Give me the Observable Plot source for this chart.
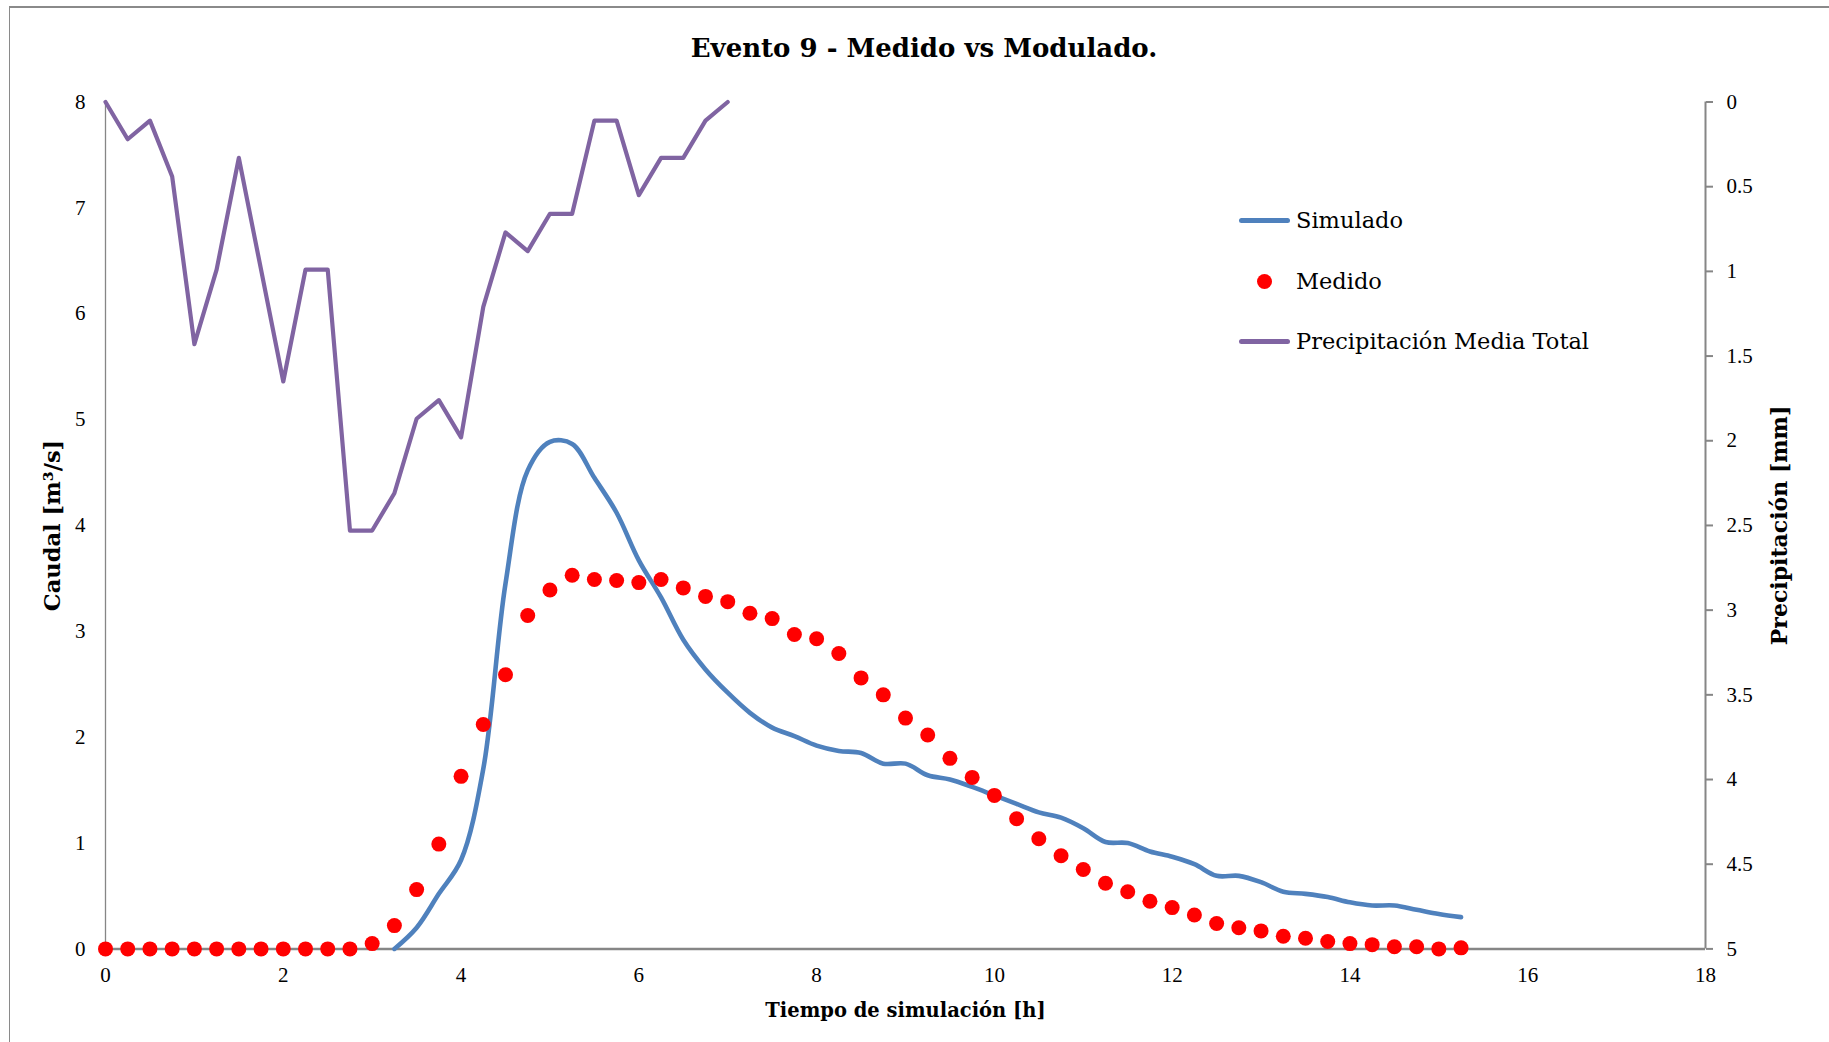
<!DOCTYPE html>
<html>
<head>
<meta charset="utf-8">
<script src="https://cdn.jsdelivr.net/npm/d3@7"></script>
<script src="https://cdn.jsdelivr.net/npm/@observablehq/plot@0.6"></script>
<style>
  html, body { margin: 0; padding: 0; background: #fff; }
  #wrap { position: relative; width: 1829px; height: 1042px; overflow: hidden; background: #fff; }
  #frame { position: absolute; left: 9px; top: 6px; width: 1900px; height: 1100px;
           border-top: 2px solid #8a8a8a; border-left: 1px solid #8a8a8a; box-sizing: border-box; }
  #title { position: absolute; left: 924px; top: 48px; transform: translate(-50%, -50%);
           font-family: "DejaVu Serif"; font-weight: bold; font-size: 26px; white-space: nowrap; color: #000; }
  #chart { position: absolute; left: 0; top: 80px; }
  .leg { position: absolute; left: 1236px; height: 30px; display: flex; align-items: center;
         font-family: "DejaVu Serif"; font-size: 22.5px; color: #000; white-space: nowrap; }
  .leg .sw { width: 58px; height: 30px; position: relative; margin-right: 2px; }
  .leg .ln { position: absolute; left: 3px; width: 51px; top: 12.5px; height: 5px; border-radius: 3px; }
  .leg .dt { position: absolute; left: 20.5px; top: 7.5px; width: 15px; height: 15px; border-radius: 50%; background: #FF0000; }
</style>
</head>
<body>
<div id="wrap">
  <div id="frame"></div>
  <div id="title"></div>
  <div id="chart"></div>
  <div id="legend"></div>
</div>
<script>
// ---------- data ----------
const titleText = "Evento 9 - Medido vs Modulado.";
const xLabel = "Tiempo de simulación [h]";
const yLabel = "Caudal [m³/s]";
const y2Label = "Precipitación [mm]";
const seriesNames = ["Simulado", "Medido", "Precipitación Media Total"];
const seriesColors = ["#4F81BD", "#FF0000", "#8064A2"];

const xTicks = [0, 2, 4, 6, 8, 10, 12, 14, 16, 18];
const yTicks = [0, 1, 2, 3, 4, 5, 6, 7, 8];
const y2Ticks = [0, 0.5, 1, 1.5, 2, 2.5, 3, 3.5, 4, 4.5, 5];

// Simulado (m3/s)
const simTime = [3.25, 3.5, 3.75, 4, 4.25, 4.5, 4.75, 5, 5.25, 5.5, 5.75, 6, 6.25, 6.5, 6.75, 7,
  7.25, 7.5, 7.75, 8, 8.25, 8.5, 8.75, 9, 9.25, 9.5, 9.75, 10, 10.25, 10.5, 10.75, 11,
  11.25, 11.5, 11.75, 12, 12.25, 12.5, 12.75, 13, 13.25, 13.5, 13.75, 14, 14.25, 14.5, 14.75, 15, 15.25];
const simQ = [0.0, 0.2, 0.52, 0.84, 1.7, 3.45, 4.52, 4.79, 4.77, 4.45, 4.12, 3.67, 3.32, 2.92, 2.64, 2.42,
  2.23, 2.09, 2.01, 1.92, 1.87, 1.85, 1.75, 1.75, 1.64, 1.60, 1.53, 1.45, 1.37, 1.29, 1.24, 1.14,
  1.01, 1.0, 0.92, 0.87, 0.80, 0.69, 0.69, 0.63, 0.54, 0.52, 0.49, 0.44, 0.41, 0.41, 0.37, 0.33, 0.30];

// Medido (m3/s)
const medTime = [0, 0.25, 0.5, 0.75, 1, 1.25, 1.5, 1.75, 2, 2.25, 2.5, 2.75, 3, 3.25, 3.5, 3.75,
  4, 4.25, 4.5, 4.75, 5, 5.25, 5.5, 5.75, 6, 6.25, 6.5, 6.75, 7, 7.25, 7.5, 7.75,
  8, 8.25, 8.5, 8.75, 9, 9.25, 9.5, 9.75, 10, 10.25, 10.5, 10.75, 11, 11.25, 11.5, 11.75,
  12, 12.25, 12.5, 12.75, 13, 13.25, 13.5, 13.75, 14, 14.25, 14.5, 14.75, 15, 15.25];
const medQ = [0, 0, 0, 0, 0, 0, 0, 0, 0, 0, 0, 0, 0.05, 0.22, 0.56, 0.99,
  1.63, 2.12, 2.59, 3.15, 3.39, 3.53, 3.49, 3.48, 3.46, 3.49, 3.41, 3.33, 3.28, 3.17, 3.12, 2.97,
  2.93, 2.79, 2.56, 2.40, 2.18, 2.02, 1.80, 1.62, 1.45, 1.23, 1.04, 0.88, 0.75, 0.62, 0.54, 0.45,
  0.39, 0.32, 0.24, 0.20, 0.17, 0.12, 0.10, 0.07, 0.05, 0.04, 0.02, 0.02, 0.0, 0.01];

// Precipitación media total (mm), secondary reversed axis
const precTime = [0, 0.25, 0.5, 0.75, 1, 1.25, 1.5, 1.75, 2, 2.25, 2.5, 2.75, 3, 3.25, 3.5, 3.75,
  4, 4.25, 4.5, 4.75, 5, 5.25, 5.5, 5.75, 6, 6.25, 6.5, 6.75, 7];
const precMM = [0, 0.22, 0.11, 0.44, 1.43, 0.99, 0.33, 0.99, 1.65, 0.99, 0.99, 2.53, 2.53, 2.31, 1.87, 1.76,
  1.98, 1.21, 0.77, 0.88, 0.66, 0.66, 0.11, 0.11, 0.55, 0.33, 0.33, 0.11, 0];

// ---------- build ----------
const yMax = 8, y2Max = 5;
const toLeft = p => yMax - p * yMax / y2Max;          // secondary (reversed) -> primary units
const fromLeft = v => +((yMax - v) * y2Max / yMax).toFixed(2);

const sim = simTime.map((t, i) => ({t, q: simQ[i]}));
const med = medTime.map((t, i) => ({t, q: medQ[i]}));
const prec = precTime.map((t, i) => ({t, p: precMM[i]}));

document.getElementById("title").textContent = titleText;

const axisColor = "#868686";
const titleFont = {fontFamily: "DejaVu Serif", fontWeight: "bold", fill: "#000", textAnchor: "middle", lineAnchor: "middle"};
const chart = Plot.plot({
  width: 1829,
  height: 962,
  marginTop: 21.5,
  marginBottom: 93.6,
  marginLeft: 105,
  marginRight: 124,
  style: {fontFamily: "Liberation Serif", fontSize: "21px", background: "transparent", color: "#000", overflow: "visible"},
  x: {domain: [0, 18]},
  y: {domain: [0, yMax]},
  marks: [
    Plot.axisX({ticks: xTicks, tickSize: 0, tickPadding: 18, label: null, tickFormat: d => String(d)}),
    Plot.axisY({ticks: yTicks, tickSize: 0, tickPadding: 20, label: null, anchor: "left", tickFormat: d => String(d)}),
    Plot.axisY({anchor: "right", ticks: y2Ticks.map(toLeft), tickFormat: v => String(fromLeft(v)),
                tickSize: 7, tickPadding: 14, label: null, stroke: axisColor, strokeWidth: 2, fill: "#000"}),
    Plot.ruleX([0], {stroke: axisColor, strokeWidth: 1.3}),
    Plot.ruleX([18], {stroke: axisColor, strokeWidth: 2}),
    Plot.ruleY([0], {stroke: axisColor, strokeWidth: 2.5}),
    Plot.line(sim, {x: "t", y: "q", stroke: seriesColors[0], strokeWidth: 4.6, curve: "catmull-rom", strokeLinecap: "round", strokeLinejoin: "round"}),
    Plot.dot(med, {x: "t", y: "q", r: 7.5, fill: seriesColors[1], stroke: "none"}),
    Plot.line(prec, {x: "t", y: d => toLeft(d.p), stroke: seriesColors[2], strokeWidth: 4.2, strokeLinejoin: "round"}),
    Plot.text([xLabel], {text: d => d, frameAnchor: "bottom", dy: 62, fontSize: 19.5, ...titleFont}),
    Plot.text([yLabel], {text: d => d, frameAnchor: "left", dx: -53, rotate: -90, fontSize: 22.5, ...titleFont}),
    Plot.text([y2Label], {text: d => d, frameAnchor: "right", dx: 74, rotate: -90, fontSize: 22, ...titleFont})
  ]
});
document.getElementById("chart").appendChild(chart);

// legend (HTML)
const legend = document.getElementById("legend");
const legTops = [205, 266, 326];
seriesNames.forEach((name, i) => {
  const row = document.createElement("div");
  row.className = "leg";
  row.style.top = legTops[i] + "px";
  const sw = document.createElement("div");
  sw.className = "sw";
  const mk = document.createElement("div");
  if (i === 1) { mk.className = "dt"; mk.style.background = seriesColors[i]; }
  else { mk.className = "ln"; mk.style.background = seriesColors[i]; }
  sw.appendChild(mk);
  const tx = document.createElement("span");
  tx.textContent = name;
  row.appendChild(sw);
  row.appendChild(tx);
  legend.appendChild(row);
});
</script>
</body>
</html>
